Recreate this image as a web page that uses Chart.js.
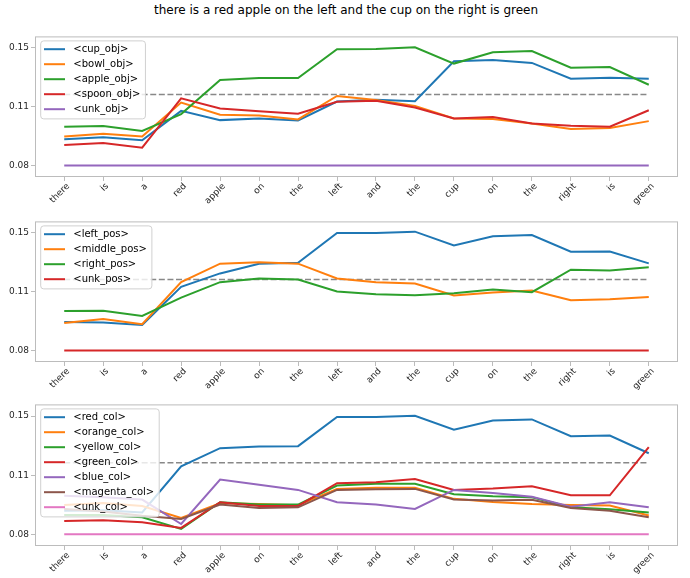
<!DOCTYPE html>
<html>
<head>
<meta charset="utf-8">
<script src="https://cdn.jsdelivr.net/npm/chart.js@4.4.1/dist/chart.umd.min.js"></script>
<style>
    body { margin: 0; background: #fff; width: 690px; height: 578px; overflow: hidden; position: relative; font-family: 'DejaVu Sans', sans-serif; }
    #title { position: absolute; left: 1px; width: 690px; top: 3px; text-align: center; font-size: 12px; color: #000; }
    .panel { position: absolute; left: 0; width: 690px; }
</style>
</head>
<body>
<div id="title">there is a red apple on the left and the cup on the right is green</div>
<div class="panel" style="top:29px;height:186px"><canvas id="objChart"></canvas></div>
<div class="panel" style="top:214px;height:186px"><canvas id="posChart"></canvas></div>
<div class="panel" style="top:397px;height:181px"><canvas id="colChart"></canvas></div>
<script>
/* ---------- data ---------- */
const words = ['there', 'is', 'a', 'red', 'apple', 'on', 'the', 'left', 'and', 'the', 'cup', 'on', 'the', 'right', 'is', 'green'];

const yTickValues = [0.08, 0.115, 0.15];
const yTickLabels = ['0.08', '0.11', '0.15'];
const chanceLevel = [0.1223, 0.1223, 0.1223, 0.1223, 0.1223, 0.1223, 0.1223, 0.1223, 0.1223, 0.1223, 0.1223, 0.1223, 0.1223, 0.1223, 0.1223, 0.1223];

// objects
const cupObj   = [0.0956, 0.0968, 0.0950, 0.1125, 0.1070, 0.1080, 0.1068, 0.1181, 0.1192, 0.1183, 0.1421, 0.1429, 0.1411, 0.1317, 0.1323, 0.1317];
const bowlObj  = [0.0973, 0.0989, 0.0973, 0.1175, 0.1102, 0.1098, 0.1074, 0.1214, 0.1190, 0.1155, 0.1080, 0.1076, 0.1050, 0.1017, 0.1023, 0.1064];
const appleObj = [0.1031, 0.1035, 0.1005, 0.1106, 0.1309, 0.1321, 0.1321, 0.1492, 0.1494, 0.1504, 0.1407, 0.1474, 0.1482, 0.1382, 0.1386, 0.1281];
const spoonObj = [0.0922, 0.0934, 0.0906, 0.1200, 0.1139, 0.1123, 0.1108, 0.1179, 0.1186, 0.1145, 0.1080, 0.1088, 0.1050, 0.1037, 0.1031, 0.1129];
const unkObj   = [0.08, 0.08, 0.08, 0.08, 0.08, 0.08, 0.08, 0.08, 0.08, 0.08, 0.08, 0.08, 0.08, 0.08, 0.08, 0.08];

// positions
const leftPos   = [0.0970, 0.0967, 0.0952, 0.1179, 0.1259, 0.1317, 0.1322, 0.1500, 0.1500, 0.1508, 0.1426, 0.1480, 0.1488, 0.1388, 0.1390, 0.1319];
const middlePos = [0.0963, 0.0987, 0.0956, 0.1207, 0.1317, 0.1326, 0.1317, 0.1229, 0.1207, 0.1199, 0.1127, 0.1145, 0.1157, 0.1099, 0.1105, 0.1119];
const rightPos  = [0.1035, 0.1037, 0.1005, 0.1115, 0.1207, 0.1229, 0.1223, 0.1151, 0.1135, 0.1129, 0.1141, 0.1163, 0.1147, 0.1281, 0.1277, 0.1295];
const unkPos    = [0.08, 0.08, 0.08, 0.08, 0.08, 0.08, 0.08, 0.08, 0.08, 0.08, 0.08, 0.08, 0.08, 0.08, 0.08, 0.08];

// colours
const redCol     = [0.0940, 0.0942, 0.0930, 0.1203, 0.1310, 0.1320, 0.1322, 0.1494, 0.1494, 0.1502, 0.1419, 0.1474, 0.1480, 0.1381, 0.1385, 0.1280];
const orangeCol  = [0.0974, 0.0986, 0.0968, 0.0897, 0.0984, 0.0980, 0.0972, 0.1069, 0.1075, 0.1075, 0.1010, 0.0992, 0.0980, 0.0974, 0.0970, 0.0911];
const yellowCol  = [0.0915, 0.0915, 0.0901, 0.0832, 0.0990, 0.0976, 0.0976, 0.1089, 0.1099, 0.1099, 0.1037, 0.1025, 0.1019, 0.0960, 0.0948, 0.0929];
const greenCol   = [0.0879, 0.0883, 0.0871, 0.0838, 0.0990, 0.0968, 0.0968, 0.1103, 0.1108, 0.1128, 0.1063, 0.1071, 0.1085, 0.1031, 0.1031, 0.1316];
const blueCol    = [0.1029, 0.1020, 0.1006, 0.0861, 0.1124, 0.1093, 0.1063, 0.0990, 0.0976, 0.0950, 0.1063, 0.1045, 0.1023, 0.0964, 0.0990, 0.0960];
const magentaCol = [0.0950, 0.0935, 0.0910, 0.0891, 0.0976, 0.0956, 0.0960, 0.1063, 0.1067, 0.1069, 0.1006, 0.1000, 0.1004, 0.0956, 0.0940, 0.0901];
const unkCol     = [0.08, 0.08, 0.08, 0.08, 0.08, 0.08, 0.08, 0.08, 0.08, 0.08, 0.08, 0.08, 0.08, 0.08, 0.08, 0.08];

/* ---------- styling ---------- */
const tab10 = ['#1f77b4', '#ff7f0e', '#2ca02c', '#d62728', '#9467bd', '#8c564b', '#e377c2'];
const frameColor = '#bcbcbc';
const textColor = '#262626';
const fontFamily = "'DejaVu Sans', sans-serif";

// boxed legend + full frame, drawn over the lines like matplotlib does
const frameLegendPlugin = {
    id: 'frameLegend',
    afterDatasetsDraw(chart) {
        const { ctx, chartArea: a } = chart;
        const items = chart.data.datasets.filter(d => d.label);
        ctx.save();

        ctx.strokeStyle = frameColor;
        ctx.lineWidth = 1;
        ctx.strokeRect(a.left + 0.5, a.top + 0.5, a.right - a.left - 1, a.bottom - a.top - 1);

        ctx.font = '10px ' + fontFamily;
        const textW = Math.max(...items.map(d => ctx.measureText(d.label).width));
        const x0 = a.left + 5.7;
        const y0 = a.top + 4.5;
        const w = 32.6 + textW + 5;
        const h = items.length * 15 + 3;

        ctx.beginPath();
        ctx.roundRect(x0, y0, w, h, 3);
        ctx.fillStyle = 'rgba(255, 255, 255, 0.8)';
        ctx.fill();
        ctx.strokeStyle = '#d0d0d0';
        ctx.stroke();

        ctx.textBaseline = 'middle';
        ctx.textAlign = 'left';
        items.forEach((d, i) => {
            const cy = y0 + 8.3 + i * 15;
            ctx.beginPath();
            ctx.moveTo(x0 + 3.3, cy);
            ctx.lineTo(x0 + 24.3, cy);
            ctx.strokeStyle = d.borderColor;
            ctx.lineWidth = 2;
            ctx.stroke();
            ctx.fillStyle = '#000';
            ctx.fillText(d.label, x0 + 32.6, cy + 0.5);
        });
        ctx.restore();
    }
};

function buildChart(canvasId, series, xAxisHeight) {
    const datasets = series.map((s, i) => ({
        label: s.label,
        data: s.values.map((v, j) => ({ x: j, y: v })),
        borderColor: tab10[i],
        backgroundColor: tab10[i],
        borderWidth: 2,
        pointRadius: 0,
        tension: 0,
        fill: false,
        order: -i
    }));
    datasets.push({
        label: '',
        data: chanceLevel.map((v, j) => ({ x: j, y: v })),
        borderColor: '#888888',
        borderWidth: 1.5,
        borderDash: [6, 2.6],
        pointRadius: 0,
        fill: false,
        order: 1
    });

    return new Chart(document.getElementById(canvasId), {
        type: 'line',
        data: { datasets },
        options: {
            responsive: true,
            maintainAspectRatio: false,
            devicePixelRatio: 1,
            animation: false,
            events: [],
            layout: { padding: { top: 6, right: 12, left: 0, bottom: 0 } },
            scales: {
                x: {
                    type: 'linear',
                    min: -0.75,
                    max: 15.75,
                    afterBuildTicks: s => { s.ticks = words.map((w, i) => ({ value: i })); },
                    afterFit: s => { s.height = xAxisHeight; },
                    border: { display: false },
                    grid: { drawOnChartArea: false, drawTicks: true, tickLength: 4, color: frameColor },
                    ticks: {
                        autoSkip: false,
                        minRotation: 45,
                        maxRotation: 45,
                        padding: 0,
                        labelOffset: 4,
                        color: textColor,
                        font: { family: fontFamily, size: 9 },
                        callback: v => words[Math.round(v)]
                    }
                },
                y: {
                    min: 0.0731,
                    max: 0.1569,
                    afterBuildTicks: s => { s.ticks = yTickValues.map(v => ({ value: v })); },
                    afterFit: s => { s.width = 35; },
                    border: { display: false },
                    grid: { drawOnChartArea: false, drawTicks: true, tickLength: 4, color: frameColor },
                    ticks: {
                        padding: 2,
                        color: textColor,
                        font: { family: fontFamily, size: 9 },
                        callback: (v, i) => yTickLabels[i]
                    }
                }
            },
            plugins: {
                legend: { display: false },
                tooltip: { enabled: false }
            }
        },
        plugins: [frameLegendPlugin]
    });
}

buildChart('objChart', [
    { label: '<cup_obj>', values: cupObj },
    { label: '<bowl_obj>', values: bowlObj },
    { label: '<apple_obj>', values: appleObj },
    { label: '<spoon_obj>', values: spoonObj },
    { label: '<unk_obj>', values: unkObj }
], 38);

buildChart('posChart', [
    { label: '<left_pos>', values: leftPos },
    { label: '<middle_pos>', values: middlePos },
    { label: '<right_pos>', values: rightPos },
    { label: '<unk_pos>', values: unkPos }
], 38);

buildChart('colChart', [
    { label: '<red_col>', values: redCol },
    { label: '<orange_col>', values: orangeCol },
    { label: '<yellow_col>', values: yellowCol },
    { label: '<green_col>', values: greenCol },
    { label: '<blue_col>', values: blueCol },
    { label: '<magenta_col>', values: magentaCol },
    { label: '<unk_col>', values: unkCol }
], 32);
</script>
</body>
</html>
